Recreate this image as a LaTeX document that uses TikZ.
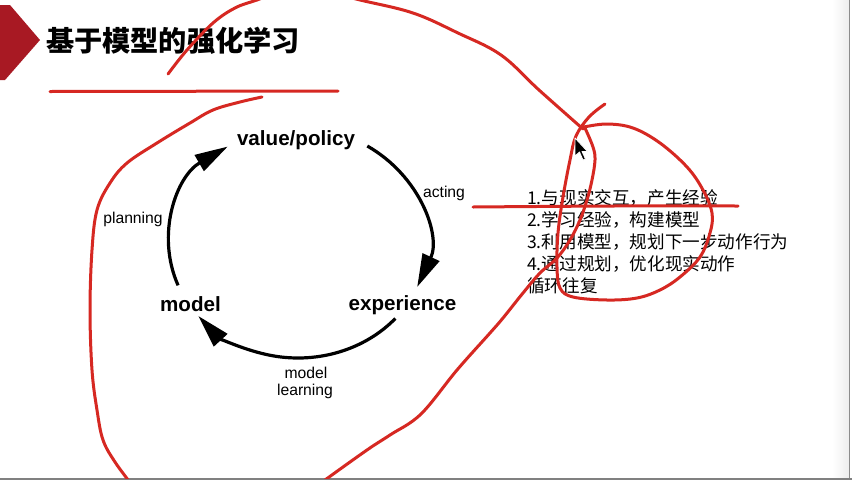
\documentclass[tikz,border=0pt]{standalone}
\usepackage{fontspec}
\setmainfont{Liberation Sans}
\newfontfamily\cjk{Noto Sans CJK SC}
\usetikzlibrary{arrows.meta}

\definecolor{penred}{RGB}{214,40,34}
\definecolor{markred}{RGB}{168,25,35}

\tikzset{
  redpen/.style={draw=penred, line width=3pt, line cap=round, line join=round},
  cyclearc/.style={draw=black, line width=3.2pt,
    -{Triangle[length=33pt, width=18pt]}},
  stage/.style={font=\bfseries\fontsize{20.6}{24}\selectfont, anchor=base, inner sep=0pt},
  edgelabel/.style={font=\fontsize{15.7}{18}\selectfont, anchor=base, inner sep=0pt},
  listline/.style={font=\cjk\fontsize{17.6}{21}\selectfont, anchor=base west, inner sep=0pt},
}

\begin{document}
\begin{tikzpicture}[x=1pt, y=-1pt]
  \useasboundingbox (0,0) rectangle (852,480);
  \fill[white] (0,0) rectangle (852,480);

  % window edges
  \shade[left color=white, right color=black!7] (832,0) rectangle (849,478);
  \fill[black!45] (848.8,0) rectangle (850,480);
  \fill[black!50] (0,478) rectangle (852,480);

  % title marker and title
  \fill[markred] (0,5) -- (10,5) -- (40,40) -- (5,80) -- (0,80) -- cycle;
  \node[font=\cjk\bfseries\fontsize{28.2}{32}\selectfont, anchor=base west, inner sep=0pt]
    (title) at (46,51) {基于模型的强化学习};

  % cycle: value/policy -> experience -> model -> value/policy
  \node[stage] (vp)    at (296,145) {value/policy};
  \node[stage] (model) at (190.5,311) {model};
  \node[stage] (exp)   at (402.5,310) {experience};

  \coordinate (c) at (298,243);
  \path (c) ++(201.6:129pt and 115pt) coordinate (planStart);
  \path (c) ++(57.5:129pt and 115pt)  coordinate (actStart);
  \path (c) ++(-41:129pt and 115pt)   coordinate (learnStart);

  \draw[cyclearc] (planStart)  arc[start angle=201.6, end angle=123,    x radius=129pt, y radius=115pt];
  \draw[cyclearc] (actStart)   arc[start angle=57.5,  end angle=-22.5,  x radius=129pt, y radius=115pt];
  \draw[cyclearc] (learnStart) arc[start angle=-41,   end angle=-140.6, x radius=129pt, y radius=115pt];

  \node[edgelabel] (planning) at (133,223) {planning};
  \node[edgelabel] (acting)   at (444,197) {acting};
  \node[edgelabel] (mlA)      at (306,378) {model};
  \node[edgelabel] (mlB)      at (305,395) {learning};

  % the loop, step by step
  \node[listline] (s1) at (527,204)   {1.与现实交互，产生经验};
  \node[listline] (s2) at (527,226)   {2.学习经验，构建模型};
  \node[listline] (s3) at (527,248)   {3.利用模型，规划下一步动作行为};
  \node[listline] (s4) at (527,270)   {4.通过规划，优化现实动作};
  \node[listline] (s5) at (527,292)   {循环往复};

  % pen annotations
  \begin{scope}
    \clip (0,0) rectangle (852,478);
    \draw[redpen] (50,91.5) -- (338,91);
    \draw[redpen] plot[smooth, tension=0.6] coordinates {
      (168,74) (187,50) (213,23) (235,8) (257,0) (300,-14) (360,0)
      (413,13) (458,33) (501,55) (539,90) (583,129)};
    \draw[redpen] plot[smooth, tension=0.6] coordinates {
      (262,97) (240,102) (213,110) (190,123) (157,143) (127,163) (110,183)
      (97,210) (92,250) (90,310) (92,370) (97,410) (103,440) (115,462) (132,485)};
    \draw[redpen] plot[smooth, tension=0.6] coordinates {
      (605,104) (589,117) (576,136) (570,160) (563,197) (558,233) (557,267)
      (560,288) (573,297) (607,300) (637,298) (660,290) (680,277) (700,257)
      (710,233) (712,213) (703,190) (687,167) (660,143) (633,128) (607,124) (584,127)};
    \draw[redpen] plot[smooth, tension=0.6] coordinates {
      (585,128) (593,147) (595,160) (592,180) (587,200) (580,220) (570,240)
      (557,258) (540,273) (523,293) (503,318) (490,333) (457,370) (421,414)
      (390,435) (367,450) (325,480) (312,490)};
    \draw[redpen] plot[smooth, tension=0.5] coordinates {
      (473,207) (613,206) (738,206)};
  \end{scope}

  % mouse pointer
  \draw[fill=black, draw=white, line width=0.8pt, line join=round]
    (575,138) -- ++(0,18) -- ++(4.5,-4) -- ++(3.5,8) -- ++(2.5,-1)
    -- ++(-3.5,-7.5) -- ++(5.5,0) -- cycle;
\end{tikzpicture}
\end{document}
